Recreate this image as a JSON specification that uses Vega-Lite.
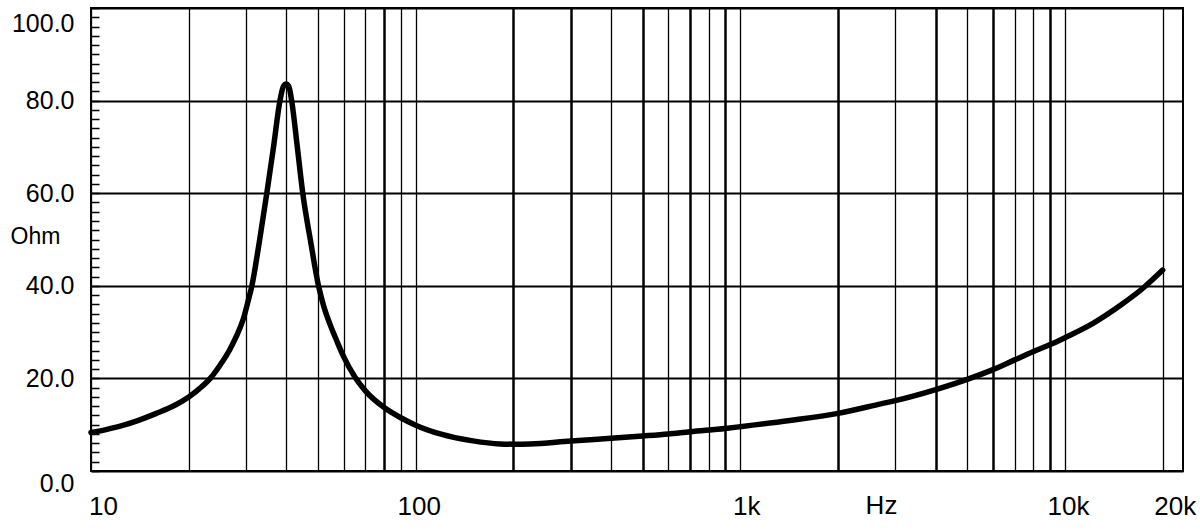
{
  "$schema": "https://vega.github.io/schema/vega-lite/v6.json",
  "width": 1092,
  "height": 463,
  "autosize": {"type": "none"},
  "padding": {"left": 91, "top": 8, "right": 17, "bottom": 60},
  "background": "white",
  "config": {
    "view": {"stroke": "black", "strokeWidth": 2},
    "axis": {"labelFont": "Liberation Sans", "titleFont": "Liberation Sans", "labelColor": "black", "titleColor": "black", "titleFontWeight": "normal"}
  },
  "data": {
    "values": [
      {"f": 10, "ohm": 8.3},
      {"f": 11.2, "ohm": 9.0},
      {"f": 12.6, "ohm": 9.9},
      {"f": 14, "ohm": 10.95},
      {"f": 15.9, "ohm": 12.45},
      {"f": 18, "ohm": 14.1},
      {"f": 20, "ohm": 16.0},
      {"f": 21.5, "ohm": 17.7},
      {"f": 23.3, "ohm": 20.0},
      {"f": 25, "ohm": 22.9},
      {"f": 26.8, "ohm": 26.3},
      {"f": 28, "ohm": 29.0},
      {"f": 29.5, "ohm": 33.0},
      {"f": 30.5, "ohm": 36.8},
      {"f": 31.3, "ohm": 40},
      {"f": 33, "ohm": 49.5},
      {"f": 34.8, "ohm": 60},
      {"f": 36.5, "ohm": 70},
      {"f": 38.2, "ohm": 80},
      {"f": 39.1, "ohm": 83},
      {"f": 39.9, "ohm": 83.6},
      {"f": 40.7, "ohm": 83},
      {"f": 41.5, "ohm": 80},
      {"f": 43.2, "ohm": 70},
      {"f": 44.9, "ohm": 60},
      {"f": 47.5, "ohm": 49.5},
      {"f": 50.1, "ohm": 40.3},
      {"f": 52, "ohm": 35.8},
      {"f": 54.6, "ohm": 31.5},
      {"f": 57, "ohm": 28.3},
      {"f": 60, "ohm": 24.7},
      {"f": 65, "ohm": 20.3},
      {"f": 70, "ohm": 17.3},
      {"f": 80, "ohm": 13.7},
      {"f": 90, "ohm": 11.5},
      {"f": 100, "ohm": 9.9},
      {"f": 119, "ohm": 8.0},
      {"f": 150, "ohm": 6.5},
      {"f": 182, "ohm": 5.85},
      {"f": 200, "ohm": 5.8},
      {"f": 225, "ohm": 5.85},
      {"f": 300, "ohm": 6.5},
      {"f": 400, "ohm": 7.05},
      {"f": 500, "ohm": 7.55},
      {"f": 600, "ohm": 8.0},
      {"f": 700, "ohm": 8.5},
      {"f": 900, "ohm": 9.2},
      {"f": 1000, "ohm": 9.57},
      {"f": 1420, "ohm": 10.9},
      {"f": 2000, "ohm": 12.45},
      {"f": 2710, "ohm": 14.5},
      {"f": 3000, "ohm": 15.2},
      {"f": 4000, "ohm": 17.6},
      {"f": 5000, "ohm": 19.8},
      {"f": 6000, "ohm": 21.9},
      {"f": 7000, "ohm": 24.0},
      {"f": 8000, "ohm": 25.8},
      {"f": 9000, "ohm": 27.3},
      {"f": 10000, "ohm": 28.8},
      {"f": 12200, "ohm": 31.9},
      {"f": 14900, "ohm": 35.9},
      {"f": 17600, "ohm": 39.8},
      {"f": 20000, "ohm": 43.4}
    ]
  },
  "mark": {"type": "line", "color": "black", "strokeWidth": 5.5, "interpolate": "monotone", "strokeCap": "round", "strokeJoin": "round"},
  "encoding": {
    "x": {
      "field": "f",
      "type": "quantitative",
      "scale": {"type": "log", "domain": [10, 23100], "nice": false},
      "axis": {
        "values": [10, 20, 30, 40, 50, 60, 70, 80, 90, 100, 200, 300, 400, 500, 600, 700, 800, 900, 1000, 2000, 3000, 4000, 5000, 6000, 7000, 8000, 9000, 10000, 20000],
        "labelExpr": "datum.value == 10 ? '10' : datum.value == 100 ? '100' : datum.value == 1000 ? '1k' : datum.value == 10000 ? '10k' : datum.value == 20000 ? '20k' : ''",
        "labelFontSize": 26,
        "labelPadding": 22,
        "labelOverlap": false,
        "labelBound": false,
        "labelFlush": false,
        "labelOffset": {"condition": [{"test": "datum.value == 10", "value": 12}, {"test": "datum.value == 20000", "value": 12}, {"test": "datum.value == 1000", "value": 6}], "value": 3},
        "ticks": false,
        "domain": false,
        "grid": true,
        "gridColor": "black",
        "gridOpacity": 1,
        "gridWidth": {"condition": {"test": "indexof([80, 200, 300, 500, 700, 900, 2000, 4000, 6000, 9000], datum.value) >= 0", "value": 2.5}, "value": 1.3},
        "title": "Hz",
        "titleFontSize": 26,
        "titleX": 790,
        "titleY": 34,
        "titleAlign": "center",
        "titleBaseline": "middle",
        "titleAnchor": null
      }
    },
    "y": {
      "field": "ohm",
      "type": "quantitative",
      "scale": {"domain": [0, 100], "nice": false, "zero": true},
      "axis": {
        "values": [0, 2, 4, 6, 8, 10, 12, 14, 16, 18, 20, 22, 24, 26, 28, 30, 32, 34, 36, 38, 40, 42, 44, 46, 48, 50, 52, 54, 56, 58, 60, 62, 64, 66, 68, 70, 72, 74, 76, 78, 80, 82, 84, 86, 88, 90, 92, 94, 96, 98, 100],
        "labelExpr": "datum.value % 20 == 0 ? format(datum.value, '.1f') : ''",
        "labelFontSize": 25,
        "labelPadding": 25,
        "labelOverlap": false,
        "labelBound": false,
        "labelFlush": false,
        "labelBaseline": {"condition": {"test": "datum.value == 100 || datum.value == 0", "value": "top"}, "value": "middle"},
        "labelOffset": {"condition": {"test": "datum.value == 100", "value": 3}, "value": 0},
        "ticks": true,
        "tickSize": -8,
        "tickWidth": 1.5,
        "tickColor": "black",
        "domain": false,
        "grid": true,
        "gridColor": "black",
        "gridOpacity": {"condition": {"test": "datum.value % 20 == 0", "value": 1}, "value": 0},
        "gridWidth": 2,
        "title": "Ohm",
        "titleFontSize": 23,
        "titleAngle": 0,
        "titleX": -56,
        "titleY": 228,
        "titleAlign": "center",
        "titleBaseline": "middle",
        "titleAnchor": null
      }
    }
  }
}
